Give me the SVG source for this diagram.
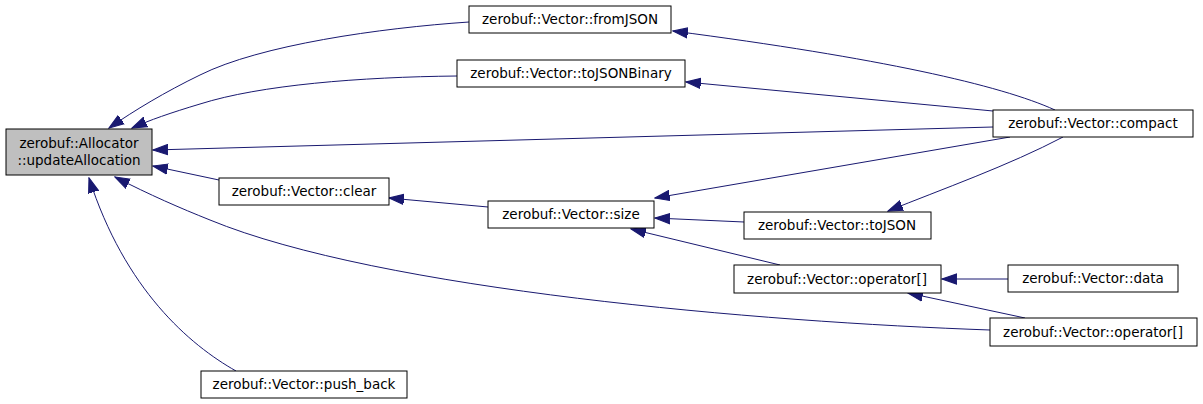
<svg xmlns="http://www.w3.org/2000/svg" width="1203" height="404" viewBox="0 0 1203 404">
<defs>
<style>
.n rect{fill:#ffffff;stroke:#000000;stroke-width:1}
.n.hl rect{fill:#bfbfbf}
.n text{font-family:"DejaVu Sans",sans-serif;font-size:13.5px;fill:#000;text-anchor:middle}
.e path{fill:none;stroke:#191970;stroke-width:1;marker-end:url(#ah)}
</style>
<marker id="ah" markerUnits="userSpaceOnUse" markerWidth="16" markerHeight="12" refX="13" refY="5" orient="auto" viewBox="0 0 14 10">
<polygon points="0,0.5 13,5 0,9.5" fill="#191970" stroke="#191970"/>
</marker>
</defs>
<rect width="1203" height="404" fill="#ffffff"/>
<g id="edges" class="e">
<path d="M469,22 C380,28 260,45 200,75 C165,92 135,110 109,128"/>
<path d="M457,76 C360,77 260,85 200,104 C170,113 150,120 132,128"/>
<path d="M1055,110 C1000,85 880,58 673,31"/>
<path d="M993,111 L686,82"/>
<path d="M993,127 L153,150"/>
<path d="M1010,137 L655,198"/>
<path d="M1063,137 C1010,165 940,190 888,211"/>
<path d="M744,222 L655,218"/>
<path d="M219,180 L153,166"/>
<path d="M488,207 L389,198"/>
<path d="M780,265 L631,229"/>
<path d="M1008,279 L942,279"/>
<path d="M1025,318 L908,293"/>
<path d="M990,330 C760,322 380,290 210,220 C180,208 150,195 115,177"/>
<path d="M236,371 C190,345 125,290 89,178"/>
</g>
<g id="n_alloc" class="n hl"><rect x="6" y="129" width="146" height="46"/><text x="79" y="148">zerobuf::Allocator</text><text x="79" y="165">::updateAllocation</text></g>
<g id="n_fromjson" class="n"><rect x="469" y="6" width="202" height="27"/><text x="570" y="24">zerobuf::Vector::fromJSON</text></g>
<g id="n_tojsonbinary" class="n"><rect x="457" y="60" width="228" height="27"/><text x="571" y="78">zerobuf::Vector::toJSONBinary</text></g>
<g id="n_compact" class="n"><rect x="993" y="110" width="200" height="27"/><text x="1093" y="128">zerobuf::Vector::compact</text></g>
<g id="n_clear" class="n"><rect x="219" y="178" width="170" height="27"/><text x="304" y="196">zerobuf::Vector::clear</text></g>
<g id="n_size" class="n"><rect x="488" y="201" width="166" height="27"/><text x="571" y="219">zerobuf::Vector::size</text></g>
<g id="n_tojson" class="n"><rect x="744" y="212" width="187" height="27"/><text x="837" y="230">zerobuf::Vector::toJSON</text></g>
<g id="n_opmid" class="n"><rect x="734" y="265" width="207" height="28"/><text x="837" y="284">zerobuf::Vector::operator[]</text></g>
<g id="n_data" class="n"><rect x="1008" y="265" width="170" height="27"/><text x="1093" y="283">zerobuf::Vector::data</text></g>
<g id="n_opright" class="n"><rect x="990" y="318" width="207" height="28"/><text x="1093" y="337">zerobuf::Vector::operator[]</text></g>
<g id="n_pushback" class="n"><rect x="201" y="371" width="206" height="27"/><text x="304" y="389">zerobuf::Vector::push_back</text></g>
</svg>
